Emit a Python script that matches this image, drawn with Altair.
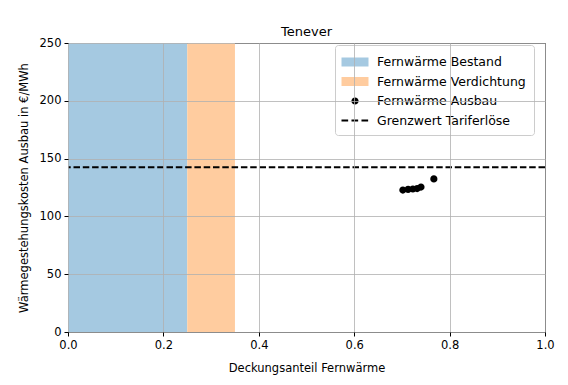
import altair as alt
import pandas as pd

# Data
band_labels = ["Fernwärme Bestand", "Fernwärme Verdichtung"]
band_start = [0.0, 0.25]
band_end = [0.25, 0.35]
y_bottom = 0
y_top = 250

ausbau_x = [0.702, 0.713, 0.723, 0.732, 0.740, 0.767]
ausbau_y = [122.8, 123.3, 123.7, 124.1, 125.4, 132.4]

grenzwert = 142.5

series = ["Fernwärme Bestand", "Fernwärme Verdichtung", "Fernwärme Ausbau", "Grenzwert Tariferlöse"]
series_colors = ["#a5c9e1", "#ffcc9f", "#000000", "#000000"]

x_ticks = [0.0, 0.2, 0.4, 0.6, 0.8, 1.0]
y_ticks = [0, 50, 100, 150, 200, 250]

# symbol paths (unit = 9px at symbol size 324)
rect_path = "M-1.5,-0.5 L1.5,-0.5 L1.5,0.5 L-1.5,0.5 Z"
circle_path = "M-0.4,0 A0.4,0.4 0 1,0 0.4,0 A0.4,0.4 0 1,0 -0.4,0 Z"
dash_path = ("M-1.5,-0.1 L-0.76,-0.1 L-0.76,0.1 L-1.5,0.1 Z "
             "M-0.39,-0.1 L0.35,-0.1 L0.35,0.1 L-0.39,0.1 Z "
             "M0.72,-0.1 L1.46,-0.1 L1.46,0.1 L0.72,0.1 Z")
series_shapes = [rect_path, rect_path, circle_path, dash_path]

bands = pd.DataFrame({"label": band_labels, "x0": band_start, "x1": band_end,
                      "y0": [y_bottom] * 2, "y1": [y_top] * 2})
pts = pd.DataFrame({"x": ausbau_x, "y": ausbau_y, "label": ["Fernwärme Ausbau"] * len(ausbau_x)})
rule_df = pd.DataFrame({"y": [grenzwert]})

FONT = "DejaVu Sans"

xscale = alt.Scale(domain=[0, 1], nice=False, zero=False)
yscale = alt.Scale(domain=[0, 250], nice=False)

xaxis = alt.Axis(values=x_ticks, format=".1f", title="Deckungsanteil Fernwärme",
                 grid=True, zindex=1)
yaxis = alt.Axis(values=y_ticks, title="Wärmegestehungskosten Ausbau in €/MWh",
                 grid=True, zindex=1)

color_scale = alt.Scale(domain=series, range=series_colors)
shape_scale = alt.Scale(domain=series, range=series_shapes)

legend = alt.Legend(title=None, orient="none", legendX=267, legendY=2,
                    fillColor="white", strokeColor="#cccccc", cornerRadius=3,
                    padding=8, symbolSize=324, symbolOffset=3, labelOffset=13,
                    rowPadding=3.5, labelFontSize=12.5, labelFont=FONT,
                    labelColor="black", symbolStrokeWidth=0, symbolOpacity=1)

band_layer = alt.Chart(bands).mark_rect(opacity=1).encode(
    x=alt.X("x0:Q", scale=xscale, axis=xaxis),
    x2="x1:Q",
    y=alt.Y("y0:Q", scale=yscale, axis=yaxis),
    y2="y1:Q",
    color=alt.Color("label:N", scale=color_scale, legend=legend),
)

rule_layer = alt.Chart(rule_df).mark_rule(color="black", strokeWidth=1.8, strokeDash=[6.5, 2.8]).encode(
    y="y:Q",
)

pt_layer = alt.Chart(pts).mark_point(filled=True, size=324, opacity=1).encode(
    x="x:Q",
    y="y:Q",
    color=alt.Color("label:N", scale=color_scale, legend=legend),
    shape=alt.Shape("label:N", scale=shape_scale, legend=legend),
)

chart = alt.layer(band_layer, rule_layer, pt_layer).properties(
    width=477, height=289,
    title=alt.Title("Tenever", fontSize=13, font=FONT, fontWeight="normal", color="black",
                    frame="group", offset=-2),
    autosize=alt.AutoSizeParams(type="none"),
    padding={"left": 60, "top": 35, "right": 15, "bottom": 45},
).configure_view(
    stroke="black", strokeWidth=1
).configure_axis(
    labelFont=FONT, labelFontSize=11.5, labelColor="black",
    titleFont=FONT, titleFontSize=11.5, titleColor="black", titleFontWeight="normal",
    domain=False, tickColor="black", tickSize=4, tickWidth=1, labelPadding=3,
    gridColor="#b0b0b0", gridWidth=0.8,
).configure_axisY(
    titlePadding=10,
).configure_axisX(
    titlePadding=12, labelFlush=False,
)

chart.save("out.html", embed_options={"renderer": "svg", "actions": False})
